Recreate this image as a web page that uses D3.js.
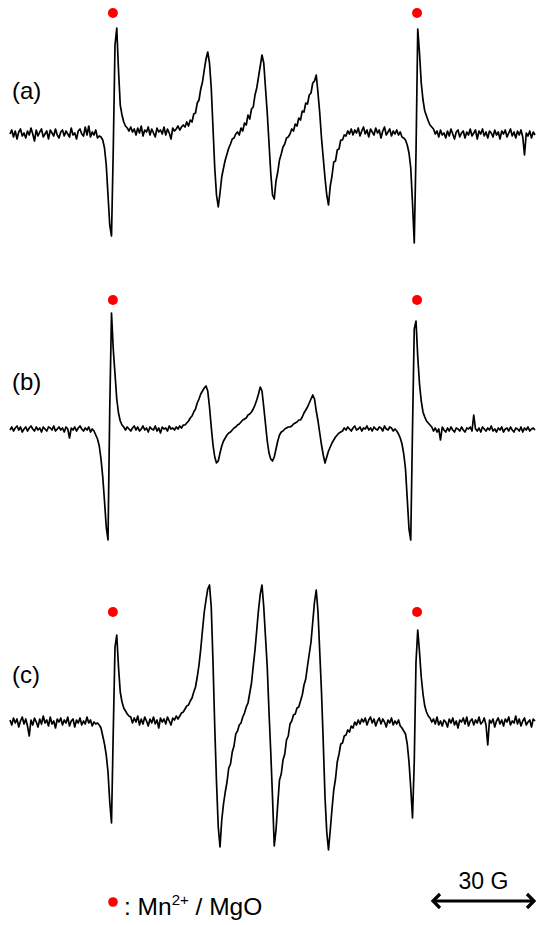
<!DOCTYPE html>
<html>
<head>
<meta charset="utf-8">
<script src="https://cdn.jsdelivr.net/npm/d3@7"></script>
<style>
  body { margin: 0; background: #fff; }
  svg { display: block; }
</style>
</head>
<body>
<div class="chart"></div>
<script>
// EPR spectra, field sampled every 0.5 G, intensity in arbitrary units (baseline = 0)
var fieldStep = 0.5;

var specA = [
  -1, 3, -4, 2, -6, 1, 4, -3, 0, -5,
  2, -2, 5, -1, -8, 3, -3, 1, 4, -4,
  -1, 2, -6, 3, 0, -3, 4, -2, -5, 1,
  3, -3, 2, -1, -4, 5, -2, 0, -6, 2,
  4, -1, -3, 6, -2, 7, -4, 1, -2, 3,
  -5, -3, -4, -7, -15, -32, -62, -92, -103, -17,
  88, 105, 63, 28, 18, 11, 7, 5, 2, 6,
  1, 4, -2, 5, 0, 7, -3, 3, 1, 6,
  -2, 4, 0, -4, 5, 1, 3, -1, 6, -2,
  4, 0, -6, 5, 2, 4, 7, 3, 6, 8,
  6, 11, 7, 13, 11, 19, 20, 30, 33, 44,
  51, 63, 74, 81, 70, 45, 5, -35, -62, -74,
  -60, -44, -35, -27, -21, -15, -11, -6, -5, -1,
  1, -2, 5, 2, 10, 8, 18, 14, 24, 26,
  38, 45, 56, 67, 78, 70, 45, 20, -10, -40,
  -62, -66, -48, -39, -27, -21, -14, -11, -5, -4,
  -1, 4, 2, 9, 7, 15, 13, 22, 21, 30,
  29, 38, 40, 50, 52, 58, 40, 20, -5, -25,
  -45, -62, -72, -53, -43, -29, -28, -17, -16, -7,
  -7, -2, -3, 2, -1, 4, -2, 3, 0, 5,
  -3, 2, 6, -1, 3, -4, 4, 1, -2, 5,
  0, 3, -5, 2, 6, -2, 1, 4, -3, 2,
  -1, 3, -2, 1, -4, -5, -7, -12, -20, -35,
  -70, -110, -20, 104, 80, 50, 33, 22, 17, 12,
  8, 6, 4, -1, 2, -4, 3, -2, 0, -5,
  2, -3, 4, -1, -6, 1, 3, -4, 0, 2,
  -5, 1, -2, 4, -3, 0, 3, -6, 2, -1,
  4, -3, 1, -5, 2, 0, -4, 3, -2, 1,
  -6, 2, -1, 3, -4, 0, 4, -3, 1, -5,
  2, -2, 3, -4, -22, 0, -3, 2, -5, 1,
  -2
];

var specB = [
  -1, 2, -2, 1, 3, -1, 2, -3, 0, 2,
  -2, 1, 3, 0, -2, 2, -1, 1, -3, 2,
  0, -2, 2, 1, -1, 3, -2, 0, 2, -1,
  1, -3, 2, 0, -9, 1, -1, 2, -2, 1,
  3, 0, -2, 1, -1, 2, -3, 0, -2, -6,
  -10, -17, -30, -48, -72, -98, -111, 20, 116, 80,
  55, 30, 16, 8, 4, 2, -1, 2, 0, -2,
  1, 3, -1, 2, -2, 0, 3, -1, 1, -3,
  2, 0, -1, 3, -2, 1, -4, 2, 0, 1,
  -2, 3, 0, 1, -1, 2, 0, 3, 1, 4,
  4, 6, 8, 11, 13, 17, 20, 26, 30, 35,
  38, 41, 43, 38, 22, 2, -16, -28, -34, -32,
  -24, -17, -12, -9, -6, -4, -3, -1, 1, 2,
  4, 5, 7, 9, 10, 11, 14, 15, 17, 20,
  24, 29, 35, 42, 38, 22, 5, -12, -24, -30,
  -32, -28, -20, -12, -6, -3, -2, 0, 1, 2,
  2, 3, 5, 6, 7, 9, 9, 12, 16, 19,
  22, 26, 30, 34, 30, 18, 8, -4, -16, -26,
  -34, -28, -22, -18, -14, -11, -8, -6, -4, -3,
  -2, 1, -1, 2, 0, -2, 1, 3, -1, 0,
  2, -2, 1, 0, 3, -1, 1, -2, 2, 0,
  -1, 2, 1, -2, 3, 0, -1, 2, 1, -2,
  0, -2, -5, -9, -15, -25, -40, -70, -100, -111,
  0, 100, 108, 72, 45, 28, 17, 12, 8, 6,
  4, 2, -2, 1, -3, 0, -11, 2, -1, -3,
  1, -2, 2, -1, -3, 1, 0, -2, 2, -1,
  -3, 1, 0, 2, -2, 14, 0, -2, 1, -3,
  2, 0, -2, 1, -1, 3, -2, 0, -3, 1,
  -1, 2, -3, 0, 1, -2, 2, -1, -3, 1,
  0, -2, 2, -3, 1, -1, 2, -2, 0, 1,
  -1
];

var specC = [
  2, -3, 4, -1, 3, -5, 1, 5, -2, 3,
  -4, -14, 2, -3, 4, 0, -5, 3, -2, 6,
  -1, 2, -4, 5, -2, 1, -6, 3, 0, 4,
  -3, 2, -1, 5, -4, 1, 3, -5, 2, -1,
  4, -3, 1, -2, 5, -1, 2, -4, 0, -2,
  -1, -3, -6, -14, -22, -33, -50, -80, -101, -10,
  75, 87, 55, 30, 20, 14, 11, 8, 6, 5,
  -1, 4, 0, 6, -3, 3, -2, 5, 1, -4,
  3, -1, 5, -2, 2, -6, 4, 0, 3, -2,
  5, 1, -3, 4, 2, 6, 3, 6, 9, 10,
  13, 16, 17, 21, 24, 30, 35, 45, 57, 73,
  92, 110, 122, 133, 137, 115, 60, -5, -60, -105,
  -125, -98, -82, -70, -60, -46, -42, -30, -24, -12,
  -9, -3, -1, 5, 9, 15, 19, 29, 39, 56,
  72, 92, 112, 128, 137, 115, 85, 55, 10, -30,
  -75, -124, -108, -82, -58, -52, -38, -32, -18, -14,
  -2, 1, 7, 8, 14, 15, 21, 27, 37, 43,
  56, 68, 80, 100, 120, 132, 110, 70, 30, -20,
  -75, -110, -128, -108, -87, -68, -57, -40, -32, -22,
  -21, -14, -13, -8, -10, -4, -6, 0, -3, 2,
  -2, 3, 0, 4, -3, 2, 5, -1, 3, -4,
  1, 4, -2, 3, 0, -5, 2, -1, 4, -3,
  1, -2, 2, -4, -6, -9, -12, -22, -40, -66,
  -96, -40, 60, 92, 70, 45, 28, 16, 10, 6,
  4, 0, 3, -2, 5, -3, 1, -4, 2, 0,
  -5, 3, -1, 4, -3, 1, -6, 2, 0, 4,
  -2, 5, -4, 1, 3, -3, 2, -1, 5, -2,
  0, 4, -3, -23, 2, -1, 3, -5, 1, 4,
  -2, 2, -4, 3, 0, 5, -3, 1, -1, 6,
  -2, 3, -4, 1, 4, -3, 0, 2, -5, 3,
  1
];

var panelLabels = ["(a)", "(b)", "(c)"];
var mnFields = [29.4, 116.3];   // Mn2+/MgO marker lines (G)
var scaleBarG = 30;
var scaleBarEnd = 150;
var legendLabel = "Mn";
var legendSup = "2+";
var legendRest = " / MgO";

var w = 550;
var h = 925;
var font = "'Liberation Sans', Arial, sans-serif";

var svg = d3.select(".chart").append("svg")
            .attr("width", w)
            .attr("height", h);

var x = d3.scaleLinear().domain([0, 150]).range([10, 535]);
var y = d3.scaleLinear().domain([-150, 150]).range([150, -150]);

var line = d3.line()
  .x(function(d, i) { return x(i * fieldStep); })
  .y(function(d) { return y(d); });

var panels = [
  {spec: specA, base: 133, labelY: 99, dotY: 13},
  {spec: specB, base: 429, labelY: 390, dotY: 300},
  {spec: specC, base: 722, labelY: 683, dotY: 612}
];

panels.forEach(function(p, k) {
  var g = svg.append("g").attr("transform", "translate(0," + p.base + ")");
  g.append("path")
    .datum(p.spec)
    .attr("d", line)
    .attr("fill", "none")
    .attr("stroke", "#000")
    .attr("stroke-width", 1.7)
    .attr("stroke-linejoin", "round");

  svg.append("text")
    .attr("x", 12)
    .attr("y", p.labelY)
    .attr("font-family", font)
    .attr("font-size", "24px")
    .text(panelLabels[k]);

  svg.selectAll(".dot" + k)
    .data(mnFields)
    .enter()
      .append("circle")
      .attr("cx", function(d) { return x(d); })
      .attr("cy", p.dotY)
      .attr("r", 5)
      .attr("fill", "#ff0000");
});

// legend
svg.append("circle")
  .attr("cx", 113)
  .attr("cy", 902)
  .attr("r", 4.8)
  .attr("fill", "#ff0000");

var leg = svg.append("text")
  .attr("x", 124)
  .attr("y", 915)
  .attr("font-family", font)
  .attr("font-size", "24.5px");
leg.append("tspan").text(": " + legendLabel);
leg.append("tspan").attr("font-size", "15px").attr("dy", -10).text(legendSup);
leg.append("tspan").attr("dy", 10).text(legendRest);

// 30 G scale bar
var x0 = x(scaleBarEnd - scaleBarG) + 2;
var x1 = x(scaleBarEnd);
var ay = 901;
var bar = svg.append("g")
  .attr("fill", "none")
  .attr("stroke", "#000")
  .attr("stroke-width", 3.2);
bar.append("line").attr("x1", x0 + 1).attr("x2", x1 - 1).attr("y1", ay).attr("y2", ay);
bar.append("path").attr("d", "M" + (x0 + 8) + "," + (ay - 7) + "L" + (x0 + 1) + "," + ay + "L" + (x0 + 8) + "," + (ay + 7));
bar.append("path").attr("d", "M" + (x1 - 8) + "," + (ay - 7) + "L" + (x1 - 1) + "," + ay + "L" + (x1 - 8) + "," + (ay + 7));

svg.append("text")
  .attr("x", (x0 + x1) / 2)
  .attr("y", 889)
  .attr("text-anchor", "middle")
  .attr("font-family", font)
  .attr("font-size", "23px")
  .text(scaleBarG + " G");
</script>
</body>
</html>
